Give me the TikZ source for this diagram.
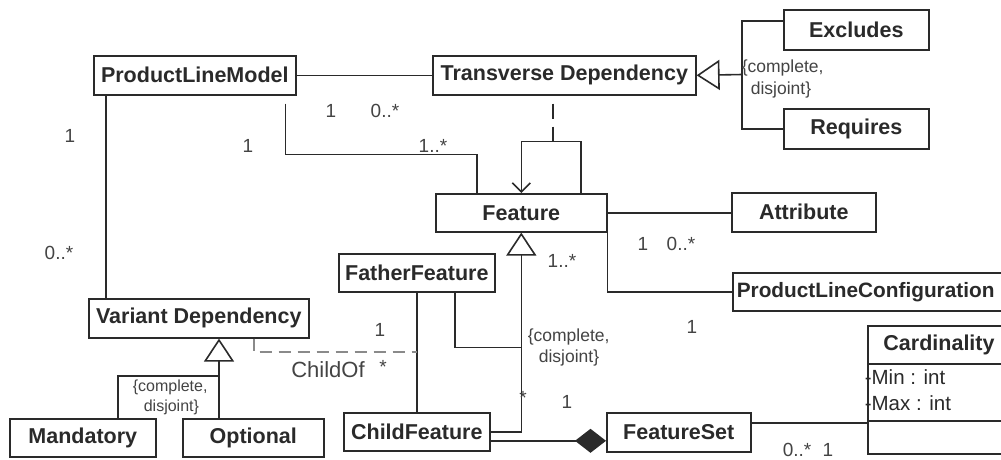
\documentclass[tikz,border=0pt]{standalone}
\usepackage{fontspec}
\setmainfont{Liberation Sans}
\usetikzlibrary{arrows.meta,calc}
\definecolor{ln}{HTML}{2A2A2A}
\definecolor{tx}{HTML}{2A2A2A}
\definecolor{lt}{HTML}{444444}
\definecolor{dg}{HTML}{8A8A8A}
\begin{document}
\begin{tikzpicture}[x=1pt,y=-1pt, line width=1.6pt, draw=ln,
 cls/.style={draw=ln, text=tx, anchor=north west, inner sep=0pt, font=\bfseries\fontsize{21.5}{25}\selectfont},
 lab/.style={text=lt, inner sep=0pt, font=\fontsize{19}{22}\selectfont},
 cons/.style={text=lt, inner sep=0pt, anchor=west, font=\fontsize{17.5}{20}\selectfont},
 conss/.style={cons, font=\fontsize{16}{19}\selectfont},
 attrf/.style={text=tx, inner sep=0pt, anchor=west, font=\fontsize{20.5}{24}\selectfont},
 gen/.style={-{Triangle[open,length=23pt,width=30pt]}},
]
\useasboundingbox[fill=white] (0,0) rectangle (1001,459);

% classes
\node[cls, minimum width=202pt, minimum height=39pt] (plm) at (93,55) {ProductLineModel};
\node[cls, minimum width=263pt, minimum height=39pt] (td) at (432,55) {Transverse Dependency};
\node[cls, minimum width=145pt, minimum height=40pt] (exc) at (783,9) {Excludes};
\node[cls, minimum width=145pt, minimum height=40pt] (req) at (783,108) {Requires};
\node[cls, minimum width=171pt, minimum height=38pt] (feat) at (435,193) {Feature};
\node[cls, minimum width=144pt, minimum height=39pt] (attr) at (731,192) {Attribute};
\node[cls, minimum height=38pt, text width=272pt, inner xsep=4pt, align=left, font=\bfseries\fontsize{20.8}{25}\selectfont] (plc) at (732,272) {ProductLineConfiguration};
\node[cls, minimum width=156pt, minimum height=38pt] (ff) at (338,253) {FatherFeature};
\node[cls, minimum width=146pt, minimum height=38pt] (cf) at (343,412) {ChildFeature};
\node[cls, minimum width=220pt, minimum height=39pt] (vd) at (88,298) {Variant Dependency};
\node[cls, minimum width=146pt, minimum height=38pt] (mand) at (9,418) {Mandatory};
\node[cls, minimum width=141pt, minimum height=38pt] (opt) at (182,418) {Optional};
\node[cls, minimum width=144pt, minimum height=39pt] (fs) at (606,412) {FeatureSet};
\node[cls, minimum width=145pt, minimum height=128pt] (card) at (867,325) {};
\draw ($(card.north west)+(0,39)$) -- ($(card.north east)+(0,39)$);
\draw ($(card.north west)+(0,96)$) -- ($(card.north east)+(0,96)$);
\node[cls, anchor=center, draw=none] (cardt) at (939,344.5) {Cardinality};
\node[attrf] (cmin) at (864,377) {-Min : int};
\node[attrf] (cmax) at (864,403) {-Max : int};

% connectors
\draw (plm) -- (td);
\draw ([xshift=13pt]plm.south west) -- ([xshift=13pt]plm.south west |- vd.north);
\draw ([xshift=-11pt,yshift=-8pt]plm.south east) -- ++(0,51) -| ([xshift=42pt]feat.north west);
\draw[dash pattern=on 15pt off 8pt, dash phase=15pt] ([xshift=121pt]td.south west) -- ++(0,46) coordinate (lp);
\draw[-{Straight Barb[length=9pt,width=18pt]}] ([xshift=146pt]feat.north west) |- (lp) -| (feat.north);
\coordinate (gj) at (742,74.5);
\draw ([yshift=9pt]exc.west) -| (gj) |- (req.west);
\draw[gen] (gj) -- (td.east);
\draw (feat.east) -- (feat.east -| attr.west);
\draw (feat.east) |- (plc.west);
\draw[gen] (cf.east) -| (feat.south);
\draw ([xshift=117pt]ff.south west) |- ($(feat.south)+(0,115)$);
\draw (cf.north) -- (cf.north |- ff.south);
\draw[dg, line width=2.4pt, dash pattern=on 12pt off 7pt] ([xshift=166pt]vd.south west) |- ($(cf.north)+(0,-60)$);
\draw[gen] ([xshift=37pt]opt.north west) -- ([xshift=37pt]opt.north west |- vd.south);
\draw ([xshift=109pt]mand.north west) |- ($([xshift=37pt]opt.north west)+(0,-42)$);
\draw[{Diamond[length=31pt,width=24pt]}-] ([yshift=-8.5pt]fs.west) -- ([yshift=-8.5pt]fs.west -| cf.east);
\draw ([yshift=9.5pt]fs.east) -- ([yshift=9.5pt]fs.east -| card.west);

% multiplicities
\node[lab] (m1) at (331,111) {1};
\node[lab] (m2) at (385,111) {0..*};
\node[lab] (m3) at (70,136) {1};
\node[lab] (m4) at (59,253) {0..*};
\node[lab] (m5) at (248,146) {1};
\node[lab] (m6) at (433,146) {1..*};
\node[lab] (m7) at (643,244) {1};
\node[lab] (m8) at (681,244) {0..*};
\node[lab] (m9) at (562,261) {1..*};
\node[lab] (m10) at (692,327) {1};
\node[lab] (m11) at (380,330) {1};
\node[lab, font=\fontsize{22}{26}\selectfont] (co) at (328,370) {ChildOf};
\node[lab] (m12) at (383,367) {*};
\node[lab] (m13) at (523,398) {*};
\node[lab] (m14) at (567,402) {1};
\node[lab] (m15) at (797,450) {0..*};
\node[lab] (m16) at (828,450) {1};

% constraints
\node[cons] (c1a) at (741,68) {\{complete,};
\node[cons] (c1b) at (750,90) {disjoint\}};
\node[conss] (c2a) at (132,387) {\{complete,};
\node[conss] (c2b) at (143,407) {disjoint\}};
\node[cons] (c3a) at (527,337) {\{complete,};
\node[cons] (c3b) at (538,358) {disjoint\}};
\end{tikzpicture}
\end{document}
